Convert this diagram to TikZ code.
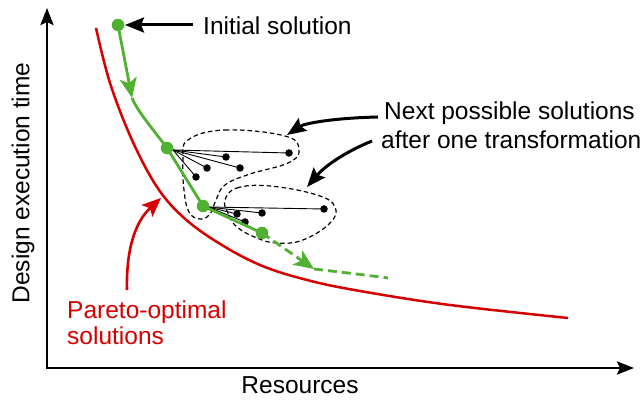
\documentclass[tikz,border=0pt]{standalone}
\usepackage{fontspec}
\setmainfont{Liberation Sans}
\usetikzlibrary{arrows.meta}
\definecolor{pgreen}{RGB}{80,176,48}
\definecolor{pred}{RGB}{214,0,0}
\begin{document}
\begin{tikzpicture}[x=1pt,y=-1pt,
  lbl/.style={font=\fontsize{24.5}{29}\selectfont, inner sep=0pt},
  axisline/.style={line width=2.8pt, line join=miter, {Stealth[length=17pt,width=13pt,inset=3pt]}-{Stealth[length=17pt,width=13pt,inset=3pt]}},
  pareto/.style={pred, line width=2.5pt},
  solpath/.style={pgreen, line width=2.8pt},
  greentip/.style={-{Stealth[length=20pt,width=17pt,inset=5pt]}},
  pathdash/.style={solpath, dash pattern=on 9pt off 5pt},
  callout/.style={line width=3pt, -{Stealth[length=19pt,width=15pt,inset=3pt]}},
  redcallout/.style={pred, line width=2.6pt, -{Stealth[length=19pt,width=16pt,inset=4pt]}},
  gdot/.style={circle, fill=pgreen, minimum size=12.5pt, inner sep=0pt},
  bdot/.style={circle, fill=black, minimum size=7.5pt, inner sep=0pt},
  fan/.style={line width=0.9pt},
  region/.style={line width=1.2pt, dash pattern=on 4.5pt off 3pt}
]
\useasboundingbox (0,0) rectangle (643,403);
\clip (0,0) rectangle (643,403);

% axes
\coordinate (ytop) at (47,8);
\coordinate (origin) at (47,368);
\coordinate (xend) at (634,368);
\draw[axisline] (ytop) -- (origin) -- (xend);
\node[lbl, rotate=90] (ylab) at (23,183) {Design execution time};
\node[lbl, anchor=base] (xlab) at (300,394) {Resources};

% Pareto front
\draw[pareto] plot[smooth, tension=0.6] coordinates {(96,28) (110,83) (132,140) (157,187) (183,217) (217,242) (260,265) (307,280) (360,291) (450,305) (568,318)};

% candidate regions
\draw[region] plot[smooth cycle, tension=0.7] coordinates {(188,140) (225,130) (285,136) (299,150) (288,163) (250,174) (225,185) (216,200) (210,214) (200,219) (189,212) (184,190) (183,160)};
\draw[region] plot[smooth cycle, tension=0.7] coordinates {(225,200) (237,188) (270,186) (317,195) (335,207) (330,223) (303,240) (277,243) (257,238) (237,227) (228,213)};

% candidate solutions from B
\coordinate (fanB) at (173,150);
\node[bdot] (b1) at (289,153) {};
\node[bdot] (b2) at (226,157) {};
\node[bdot] (b3) at (240,168) {};
\node[bdot] (b4) at (207,168) {};
\node[bdot] (b5) at (196,177) {};
\foreach \t in {b1,b2,b3,b4,b5} \draw[fan] (fanB) -- (\t.center);

% candidate solutions from C
\coordinate (fanC) at (208,207);
\node[bdot] (c1) at (324,209) {};
\node[bdot] (c2) at (262,213) {};
\node[bdot] (c3) at (237,214) {};
\node[bdot] (c4) at (245,222) {};
\foreach \t in {c1,c2,c3,c4} \draw[fan] (fanC) -- (\t.center);

% optimisation path
\node[gdot] (A) at (118,25) {};
\node[gdot] (B) at (167,148) {};
\node[gdot] (C) at (203,206) {};
\node[gdot] (D) at (262,233) {};
\coordinate (tipA) at (132,98);
\coordinate (tipD) at (314,269);
\coordinate (pend) at (388,278);
\draw[solpath, greentip] (A.center) -- (tipA);
\draw[solpath] (tipA) .. controls (138,112) and (152,128) .. (B.center) -- (C.center) -- (D.center);
\draw[pathdash, greentip] (D.center) -- (tipD);
\draw[pathdash] (tipD) .. controls (340,272) and (365,275) .. (pend);

% annotations
\node[lbl, anchor=base west] (init) at (203,35) {Initial solution};
\coordinate (initTail) at (193,25);
\coordinate (initTip) at (125,25);
\draw[callout] (initTail) -- (initTip);

\node[lbl, anchor=base west, align=left] (next1) at (384,120) {Next possible solutions};
\node[lbl, anchor=base west, align=left] (next2) at (381,149) {after one transformation};
\coordinate (n1tail) at (378,117);
\coordinate (n1tip) at (287,135);
\coordinate (n2tail) at (372,141);
\coordinate (n2tip) at (307,187);
\draw[callout] (n1tail) .. controls (335,118) and (305,123) .. (n1tip);
\draw[callout] (n2tail) .. controls (345,152) and (325,166) .. (n2tip);

\node[lbl, pred, anchor=base west] (par1) at (67,319) {Pareto-optimal};
\node[lbl, pred, anchor=base west] (par2) at (67,345) {solutions};
\coordinate (redTail) at (127,290);
\coordinate (redTip) at (161,198);
\draw[redcallout] (redTail) .. controls (126,250) and (135,222) .. (redTip);
\end{tikzpicture}
\end{document}
